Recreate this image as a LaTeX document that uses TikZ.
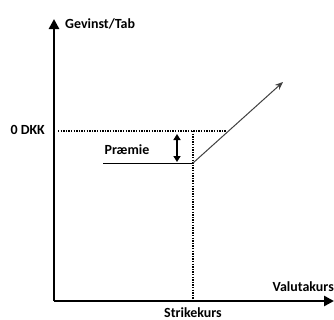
\documentclass[tikz,border=0pt]{standalone}
\usepackage{fontspec}
\setmainfont{Carlito}
\usetikzlibrary{arrows.meta}
\tikzset{
  axis/.style={line width=2.8bp,-{Triangle[length=10bp,width=10bp]}},
  guide/.style={line width=1.3bp,dash pattern=on 1.3bp off 1.3bp},
  lbl/.style={font=\bfseries\fontsize{14}{16}\selectfont,inner sep=0pt},
  payoff/.style={line width=1bp,draw=black!75,-{Stealth[length=8bp,width=6.5bp]}},
  prem/.style={line width=2bp,{Triangle[length=6bp,width=7bp]}-{Triangle[length=6bp,width=7bp]}}
}
\begin{document}
\begin{tikzpicture}[x=1bp,y=-1bp]
\useasboundingbox (0,0) rectangle (334,320);
\coordinate (O) at (54,301);
\coordinate (ytip) at (54,19);
\coordinate (xtip) at (334,301);
\coordinate (z0) at (58,131);
\coordinate (zend) at (226,131);
\coordinate (K) at (193,163);
\coordinate (Kb) at (193,301);
\coordinate (Ktop) at (193,131);
\coordinate (pl) at (103,163);
\coordinate (ptip) at (283,82);
\coordinate (pa) at (177,134);
\coordinate (pb) at (177,162);
\draw[guide] (z0) -- (zend);
\draw[guide] (Ktop) -- (Kb);
\draw[line width=1bp] (pl) -- (K);
\draw[payoff] (K) -- (ptip);
\draw[prem] (pa) -- (pb);
\draw[axis] (O) -- (ytip);
\draw[axis] (O) -- (xtip);
\node[lbl,anchor=west] (gt) at (65,24) {Gevinst/Tab};
\node[lbl,anchor=east] (dkk) at (45,130) {0 DKK};
\node[lbl] (pr) at (127,150) {Præmie};
\node[lbl,anchor=east] (vk) at (334,287) {Valutakurs};
\node[lbl,anchor=base] (sk) at (193,317.5) {Strikekurs};
\end{tikzpicture}
\end{document}
